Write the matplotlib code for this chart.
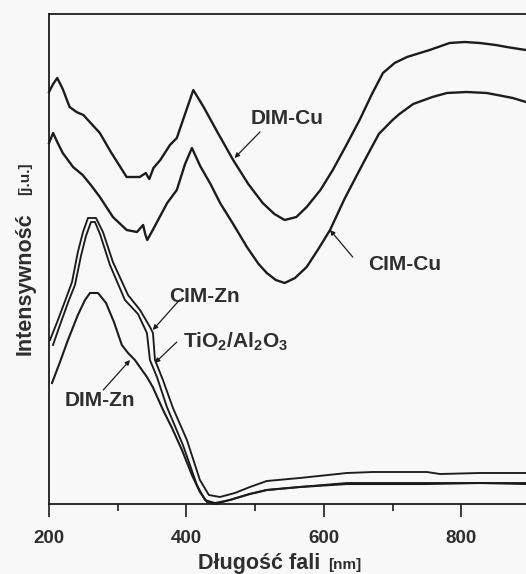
import matplotlib
matplotlib.use("Agg")
import matplotlib.pyplot as plt

plt.rcParams['font.family'] = ['Liberation Sans', 'DejaVu Sans']
plt.rcParams['mathtext.fontset'] = 'custom'
plt.rcParams['mathtext.rm'] = 'Liberation Sans:bold'
plt.rcParams['mathtext.it'] = 'Liberation Sans:bold'
plt.rcParams['mathtext.bf'] = 'Liberation Sans:bold'

# ---- data (wavelength nm, intensity arbitrary units) ----
dimcu_wl = [200, 206, 212, 220, 230, 240, 250, 262, 274, 290, 313, 332, 341, 344, 346, 352, 362, 376,
            386, 400, 410, 425, 445, 468, 490, 511, 528, 543, 560, 575, 595, 613, 632, 652, 670, 686,
            703, 721, 735, 754, 783, 805, 827, 850, 866, 894]
dimcu_y = [412, 420, 426, 415, 397, 392, 389, 380, 371, 352, 327, 327, 331, 327, 325, 336, 344, 359,
           366, 394, 414, 397, 372, 344, 320, 301, 290, 284, 287, 297, 314, 334, 358, 384, 410, 431,
           441, 447, 450, 454, 461, 462, 461, 459, 457, 454]

cimcu_wl = [200, 203, 206, 212, 220, 235, 249, 262, 274, 293, 313, 328, 337, 340, 343, 351, 372, 386,
            398, 408, 420, 435, 449, 468, 488, 505, 517, 530, 543, 558, 575, 592, 609, 630, 652, 662,
            680, 700, 710, 730, 758, 779, 808, 837, 860, 875, 894]
cimcu_y = [361, 366, 371, 362, 351, 337, 329, 318, 307, 287, 274, 272, 279, 270, 264, 274, 301, 314,
           340, 356, 338, 320, 301, 280, 257, 240, 231, 224, 221, 226, 237, 255, 274, 305, 334, 347,
           370, 384, 390, 400, 407, 411, 412, 411, 408, 406, 402]

cimzn_wl = [201.5, 213, 225, 233.5, 242, 249.5, 256.7, 268.4, 278.5, 293, 315, 332.4, 347, 351.3,
            354.2, 365.8, 380.4, 400.7, 419.6, 432.7, 448.7, 470.5, 492.4, 517, 565, 633.5, 671, 750,
            769, 827, 894]
cimzn_y = [164, 184, 206, 222, 252, 272, 286, 286, 272, 242, 209, 194, 177, 171,
           144, 124, 96, 64, 24, 9, 7, 11, 17, 23, 26, 31, 32, 32,
           30, 31, 31]

tio2_wl = [205.8, 217.5, 229.1, 237.8, 246.5, 253.8, 261.1, 266.9, 274.2, 288.7, 310.5, 329.5, 342.5,
           346.9, 357.1, 371.6, 394.9, 415.3, 426.9, 441.5, 463.3, 492.4, 517, 565, 633.5, 750, 827, 894]
tio2_y = [159, 182, 204, 219, 248, 268, 282, 282, 270, 239, 204, 190, 171,
          144, 127, 97, 59, 19, 4, 1, 4, 10, 14, 17, 21, 21, 21, 21]

dimzn_wl = [204.4, 216, 227.6, 242, 252.4, 259.6, 271.3, 283, 294.5, 306, 315, 325, 342.5, 351, 366,
            379, 393.5, 408, 419.6, 430, 441.5, 463, 492, 517, 565, 633.5, 750, 827, 894]
dimzn_y = [121, 142, 164, 189, 204, 211, 211, 201, 182, 159, 151, 144, 127, 117, 94,
           76, 54, 29, 12, 2, 0, 4, 10, 14, 17, 20, 20, 21, 20]

xticks_major = [200, 400, 600, 800]
xticks_minor = [300, 500, 700]

INK = '#1c1c1c'
TXT = '#2e2e2e'
BG = '#f8f8f8'

fig = plt.figure(figsize=(5.26, 5.74), dpi=100, facecolor=BG)
ax = fig.add_axes([49/526, 1 - 504/574, 481/526, 490/574])
ax.set_facecolor(BG)

for wl, y, lw in [(dimcu_wl, dimcu_y, 1.7), (cimcu_wl, cimcu_y, 1.7),
                  (cimzn_wl, cimzn_y, 1.35), (tio2_wl, tio2_y, 1.35), (dimzn_wl, dimzn_y, 1.5)]:
    ax.plot(wl, y, color=INK, lw=lw, clip_on=False, solid_joinstyle='round')

ax.set_xlim(200, 900)
ax.set_ylim(0, 490)
ax.set_yticks([])
ax.set_xticks(xticks_major)
ax.set_xticks(xticks_minor, minor=True)
ax.tick_params(axis='x', which='major', direction='out', length=9, width=1.2, color=INK,
               pad=10, labelsize=13.5, labelcolor=TXT)
ax.tick_params(axis='x', which='minor', direction='out', length=5, width=1.2, color=INK)
for lab in ax.get_xticklabels():
    lab.set_fontweight('bold')
for s in ['left', 'bottom', 'top']:
    ax.spines[s].set_color(INK)
    ax.spines[s].set_linewidth(1.3)
ax.spines['right'].set_visible(False)

# axis labels
fig.text(259/526, 1 - 563/574, 'Długość fali', fontsize=15.5, fontweight='bold', color=TXT,
         ha='center', va='center')
fig.text(328/526, 1 - 565/574, '[nm]', fontsize=11, fontweight='bold', color=TXT,
         ha='left', va='center')
fig.text(25/526, 1 - 284/574, 'Intensywność', fontsize=15.5, fontweight='bold', color=TXT,
         ha='center', va='center', rotation=90)
fig.text(25/526, 1 - 179/574, '[j.u.]', fontsize=11, fontweight='bold', color=TXT,
         ha='center', va='center', rotation=90)

# curve labels and arrows
labels = [
    ('DIM-Cu', 546, 385, (507, 372), (470, 346)),
    ('CIM-Cu', 718, 239, (642, 247), (609, 274)),
    ('CIM-Zn', 426, 208, (390, 204), (351, 174)),
    ('TiO$_2$/Al$_2$O$_3$', 472, 162, (386, 162), (354, 141)),
    ('DIM-Zn', 274, 104, (279, 114), (318, 144)),
]
for txt, tx, ty, start, end in labels:
    ax.text(tx, ty, txt, fontsize=15, fontweight='bold', color=TXT, ha='center', va='center')
    ax.annotate('', xy=end, xytext=start,
                arrowprops=dict(arrowstyle='-|>', lw=0.9, color=INK, mutation_scale=7,
                                shrinkA=0, shrinkB=0))

fig.savefig('out.png', dpi=100, facecolor=BG)
